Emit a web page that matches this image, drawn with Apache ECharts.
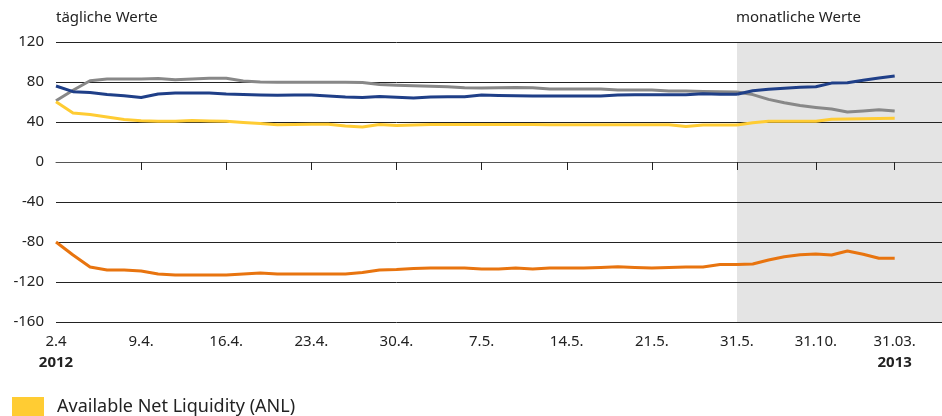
<!DOCTYPE html>
<html>
<head>
<meta charset="utf-8">
<script src="https://cdn.jsdelivr.net/npm/echarts@6/dist/echarts.min.js"></script>
<style>
  html, body { margin: 0; padding: 0; background: #fff; }
  #chart { width: 942px; height: 416px; }
</style>
</head>
<body>
<div id="chart"></div>
<script>
// tick labels, one every 5th trading day (daily part)
var dailyLabels = ['2.4', '9.4.', '16.4.', '23.4.', '30.4.', '7.5.', '14.5.', '21.5.', '31.5.'];
// month ends (monthly part)
var monthlyLabels = ['31.5.', '30.6.', '31.7.', '31.8.', '30.9.', '31.10.', '30.11.', '31.12.', '31.01.', '28.02.', '31.03.'];
var shownMonthly = ['31.10.', '31.03.'];
var years = {'2.4': '2012', '31.03.': '2013'};

// Available Net Liquidity (ANL) - gelb
var anlDaily = [60.3, 49, 47.5, 45, 42.5, 41.3, 40.7, 40.7, 41.5, 41, 40.7, 39.5, 38.5, 37.3, 37.5, 37.7, 37.7, 36, 35, 37.5,
  36.5, 37, 37.5, 37.5, 37.5, 37.5, 37.5, 37.5, 37.5, 37.3, 37.3, 37.3, 37.3, 37.3, 37.3, 37.3, 37.3, 35.5, 37, 37, 37];
var anlMonthly = [37, 39.3, 40.7, 40.7, 40.7, 40.7, 42.7, 43, 43.2, 43.5, 43.7];

// grau
var grayDaily = [61.3, 71.7, 81.3, 83, 83, 83, 83.5, 82.3, 83, 83.7, 83.7, 81, 80, 79.7, 79.7, 79.7, 79.7, 79.7, 79.5, 77.4,
  76.8, 76.2, 75.8, 75.3, 74.2, 74, 74.3, 74.5, 74.2, 73, 73, 73, 73, 72, 72, 72, 71, 71, 70.5, 70.3, 70];
var grayMonthly = [70, 67.4, 62.6, 59.2, 56.4, 54.6, 52.9, 50, 51, 52.2, 51];

// blau
var blueDaily = [76, 70.3, 69.5, 67.5, 66.3, 64.5, 68, 69, 69, 69, 68, 67.5, 67, 66.8, 67, 67, 66, 65, 64.5, 65.5,
  64.8, 64, 65, 65.3, 65.3, 67, 66.5, 66.3, 66, 66, 66, 66, 66, 67, 67.3, 67.3, 67.3, 67.3, 68.3, 67.8, 67.7];
var blueMonthly = [67.7, 71.3, 72.8, 73.8, 74.8, 75.3, 78.9, 79.3, 81.7, 83.9, 86];

// orange
var orangeDaily = [-80, -93, -105, -108, -108, -109, -112, -113, -113, -113, -113, -112, -111, -112, -112, -112, -112, -112, -110.5, -108,
  -107.5, -106.5, -106, -106, -106, -107, -107, -106, -107, -106, -106, -106, -105.5, -104.7, -105.5, -106, -105.5, -105, -105, -102.5, -102.5];
var orangeMonthly = [-102.5, -102, -98, -94.7, -92.7, -92, -93, -89, -92.3, -96.3, -96.3];

var anlName = 'Available Net Liquidity (ANL)';
var font = 'Noto Sans';
var textColor = '#222';
var lineColor = '#222';

var dailyCats = anlDaily.map(function (v, i) {
  return i % 5 === 0 ? dailyLabels[i / 5] : 'd' + i;
});
var monthlyCats = monthlyLabels.concat(['m1', 'm2', 'm3']);

function showDaily(i) { return i % 5 === 0; }
function showMonthly(i, v) { return shownMonthly.indexOf(v) >= 0; }
function fmt(v) {
  return years[v] ? '{d|' + v + '}\n{y|' + years[v] + '}' : '{d|' + v + '}';
}
var labelRich = {
  d: {fontFamily: font, fontSize: 15, color: textColor, lineHeight: 21},
  y: {fontFamily: font, fontSize: 15, fontWeight: 'bold', color: textColor, lineHeight: 21}
};

function yAx(grid, labels) {
  return {
    type: 'value',
    gridIndex: grid,
    min: -160,
    max: 120,
    interval: 40,
    axisLine: {show: false},
    axisTick: {show: false},
    axisLabel: {show: labels, margin: 12, fontFamily: font, fontSize: 15, color: textColor},
    splitLine: {show: true, lineStyle: {color: lineColor, width: 1}}
  };
}

function line(name, color, data, idx, z) {
  return {
    name: name,
    type: 'line',
    xAxisIndex: idx,
    yAxisIndex: idx,
    data: data,
    showSymbol: false,
    symbol: 'none',
    z: z,
    lineStyle: {color: color, width: 3, join: 'round'},
    itemStyle: {color: color}
  };
}

var chart = echarts.init(document.getElementById('chart'));
chart.setOption({
  animation: false,
  title: [
    {text: 'tägliche Werte', left: 56, top: 10, padding: 0, textStyle: {fontFamily: font, fontSize: 15, fontWeight: 'normal', color: textColor}},
    {text: 'monatliche Werte', left: 736, top: 10, padding: 0, textStyle: {fontFamily: font, fontSize: 15, fontWeight: 'normal', color: textColor}}
  ],
  legend: {
    data: [anlName],
    left: 12,
    top: 397,
    padding: 0,
    icon: 'rect',
    itemWidth: 32,
    itemHeight: 20,
    textStyle: {fontFamily: font, fontSize: 18, color: textColor, padding: [0, 0, 0, 8]}
  },
  grid: [
    {left: 56, right: 205, top: 42, bottom: 94},
    {left: 737, right: 0, top: 42, bottom: 94, show: true, backgroundColor: '#e4e4e4', borderWidth: 0}
  ],
  xAxis: [
    {
      type: 'category',
      gridIndex: 0,
      data: dailyCats,
      boundaryGap: false,
      axisLine: {show: true, lineStyle: {color: '#555', width: 1}},
      axisTick: {show: true, length: 8, interval: function (i) { return i > 0 && showDaily(i); }, lineStyle: {color: lineColor}},
      axisLabel: {interval: showDaily, margin: 9, formatter: fmt, rich: labelRich},
      splitLine: {show: false}
    },
    {
      type: 'category',
      gridIndex: 1,
      data: monthlyCats,
      boundaryGap: false,
      axisLine: {show: true, lineStyle: {color: '#555', width: 1}},
      axisTick: {show: true, length: 8, interval: showMonthly, lineStyle: {color: lineColor}},
      axisLabel: {interval: showMonthly, margin: 9, formatter: fmt, rich: labelRich},
      splitLine: {show: false}
    }
  ],
  yAxis: [yAx(0, true), yAx(1, false)],
  series: [
    line('grau', '#888888', grayDaily, 0, 2),
    line('grau', '#888888', grayMonthly, 1, 2),
    line(anlName, '#ffcc33', anlDaily, 0, 3),
    line(anlName, '#ffcc33', anlMonthly, 1, 3),
    line('orange', '#e8740f', orangeDaily, 0, 4),
    line('orange', '#e8740f', orangeMonthly, 1, 4),
    line('blau', '#1f3f88', blueDaily, 0, 5),
    line('blau', '#1f3f88', blueMonthly, 1, 5)
  ]
});
</script>
</body>
</html>
